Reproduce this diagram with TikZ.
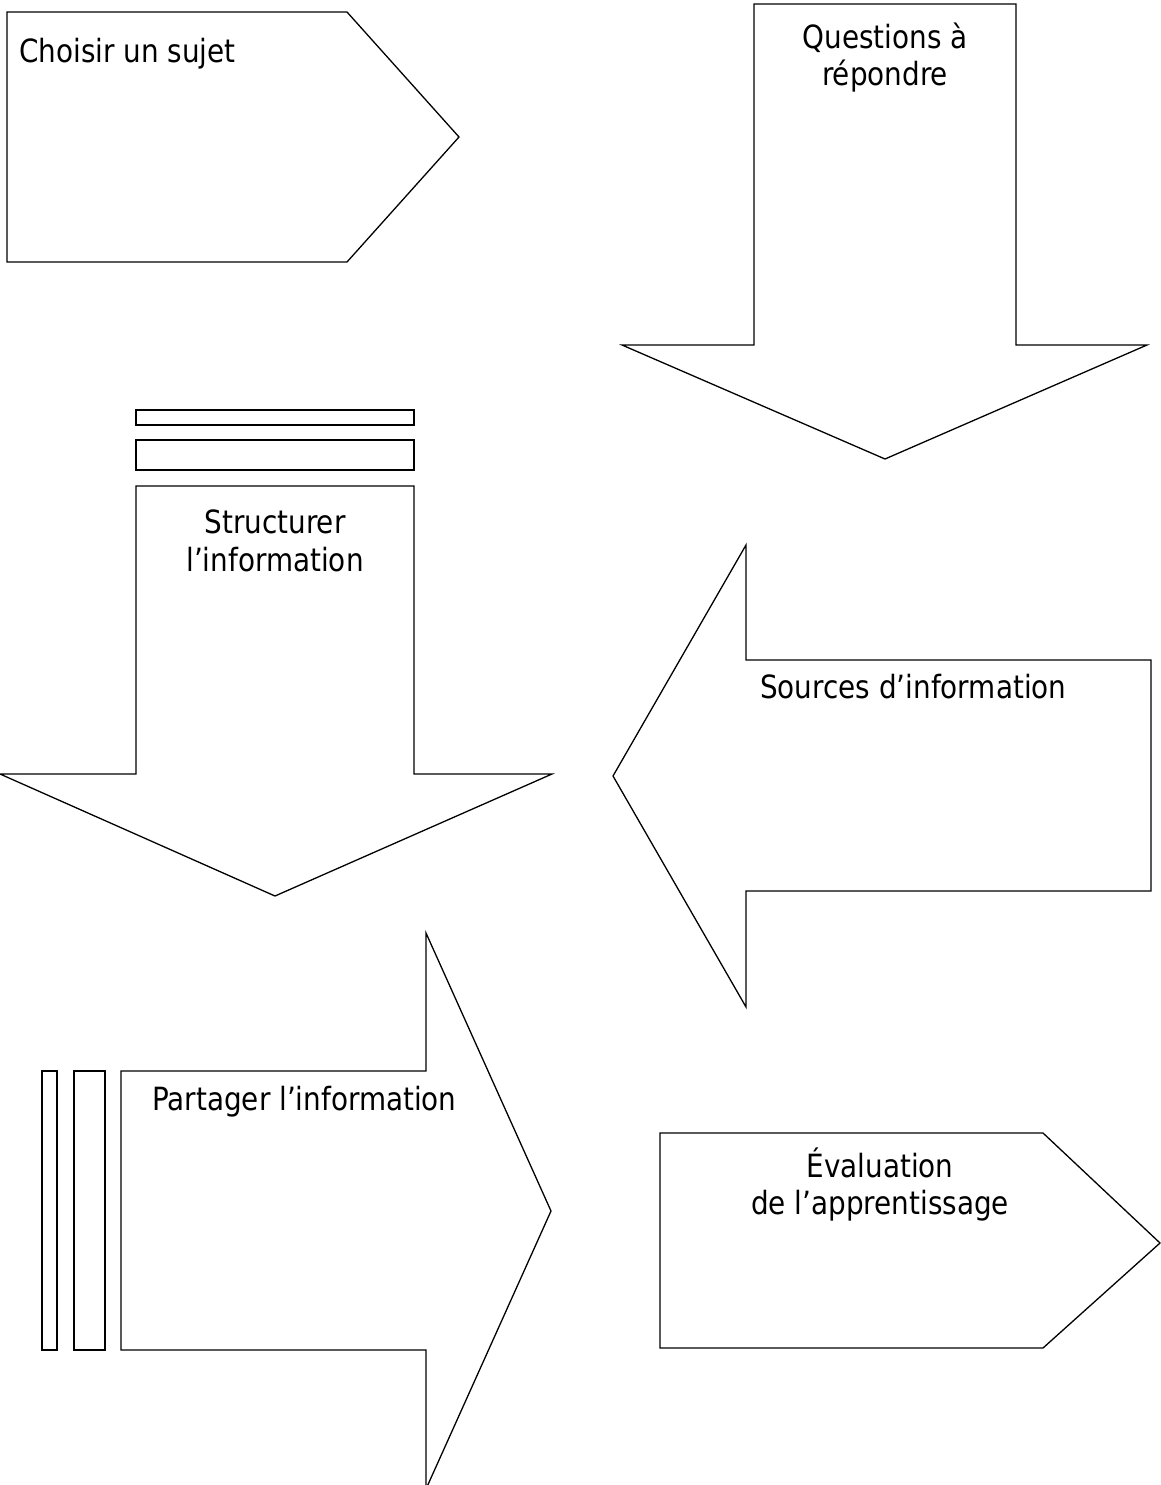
\documentclass[tikz,border=0pt]{standalone}
\usepackage{fontspec}
\setmainfont{DejaVu Sans}[FakeStretch=0.87]
\begin{document}
\begin{tikzpicture}[x=1pt,y=-1pt,
  shp/.style={draw=black,line width=1.3pt,line join=miter,fill=white},
  lbl/.style={font=\fontsize{32}{37}\selectfont,inner sep=0pt,text=black}]
\useasboundingbox[fill=white] (0,0) rectangle (1160,1485);
% 1 Choisir un sujet
\draw[shp] (7,12) -- (347,12) -- (459,137) -- (347,262) -- (7,262) -- cycle;
\node[lbl,anchor=base west] (choisir) at (19,63) {Choisir un sujet};
% 2 Questions
\draw[shp] (754,4) -- (1016,4) -- (1016,345) -- (1147,345) -- (885,459) -- (622,345) -- (754,345) -- cycle;
\node[lbl,anchor=base] (q1) at (885,49) {Questions à};
\node[lbl,anchor=base] (q2) at (885,86) {répondre};
% 3 Structurer
\draw[shp] (136,410) rectangle (414,425);
\draw[shp] (136,440) rectangle (414,470);
\draw[shp] (136,486) -- (414,486) -- (414,774) -- (552,774) -- (275,896) -- (0,774) -- (136,774) -- cycle;
\node[lbl,anchor=base] (s1) at (275,533) {Structurer};
\node[lbl,anchor=base] (s2) at (275,571) {l’information};
% 4 Sources
\draw[shp] (1151,660) -- (1151,891) -- (746,891) -- (746,1007) -- (613,776) -- (746,545) -- (746,660) -- cycle;
\node[lbl,anchor=base west] (sources) at (760,698) {Sources d’information};
% 5 Partager
\draw[shp] (42,1071) rectangle (57,1350);
\draw[shp] (74,1071) rectangle (105,1350);
\draw[shp] (121,1071) -- (426,1071) -- (426,933) -- (551,1211) -- (426,1489) -- (426,1350) -- (121,1350) -- cycle;
\node[lbl,anchor=base west] (partager) at (152,1110) {Partager l’information};
% 6 Evaluation
\draw[shp] (660,1133) -- (1043,1133) -- (1160,1243) -- (1043,1348) -- (660,1348) -- cycle;
\node[lbl,anchor=base] (e1) at (880,1177) {Évaluation};
\node[lbl,anchor=base] (e2) at (880,1214) {de l’apprentissage};
\end{tikzpicture}
\end{document}
